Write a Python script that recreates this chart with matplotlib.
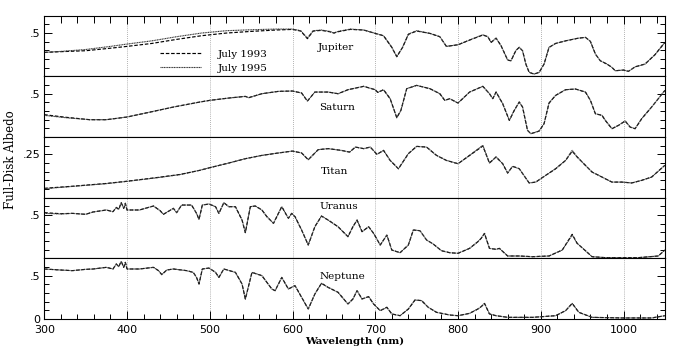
import matplotlib
matplotlib.use("Agg")
import matplotlib.pyplot as plt
from matplotlib.ticker import MultipleLocator, FixedLocator, FixedFormatter

# ---------------- data ----------------
wl_jup = [300, 320, 350, 380, 400, 430, 460, 490, 520, 550, 580, 600, 610, 618, 625, 635, 645, 650, 655,
          670, 686, 700, 710, 720, 726, 733, 740, 750, 766, 778, 786, 792, 800, 814, 830, 836, 840, 846,
          852, 860, 864, 870, 874, 878, 882, 886, 892, 898, 904, 910, 918, 930, 945, 954, 960, 966, 972,
          980, 986, 990, 1000, 1006, 1014, 1026, 1038, 1050]
jup_1995 = [0.277, 0.288, 0.31, 0.346, 0.373, 0.41, 0.458, 0.50, 0.527, 0.538, 0.546, 0.546, 0.527, 0.442,
            0.527, 0.535, 0.519, 0.50, 0.519, 0.546, 0.535, 0.496, 0.469, 0.335, 0.227, 0.335, 0.488, 0.527,
            0.496, 0.458, 0.346, 0.354, 0.365, 0.419, 0.481, 0.458, 0.392, 0.442, 0.354, 0.188, 0.18, 0.30,
            0.335, 0.296, 0.142, 0.046, 0.027, 0.046, 0.142, 0.335, 0.38, 0.41, 0.44, 0.45, 0.404, 0.258,
            0.18, 0.142, 0.104, 0.065, 0.073, 0.058, 0.11, 0.142, 0.25, 0.392]
jup_1993 = [0.277, 0.285, 0.296, 0.325, 0.346, 0.38, 0.427, 0.469, 0.50, 0.519, 0.535, 0.542, 0.523, 0.435,
            0.523, 0.531, 0.515, 0.50, 0.515, 0.542, 0.535, 0.496, 0.469, 0.335, 0.227, 0.335, 0.485, 0.523,
            0.496, 0.458, 0.346, 0.354, 0.365, 0.419, 0.477, 0.458, 0.392, 0.442, 0.354, 0.188, 0.18, 0.30,
            0.335, 0.296, 0.142, 0.046, 0.027, 0.046, 0.142, 0.335, 0.38, 0.41, 0.44, 0.45, 0.404, 0.258,
            0.18, 0.142, 0.104, 0.065, 0.073, 0.058, 0.11, 0.142, 0.25, 0.392]

wl_sat = [300, 326, 355, 375, 400, 428, 456, 488, 500, 523, 543, 547, 563, 583, 600, 611, 618, 627, 643,
          655, 667, 686, 700, 703, 710, 718, 726, 731, 738, 750, 766, 778, 784, 790, 800, 814, 830, 838,
          842, 846, 854, 862, 868, 874, 878, 884, 888, 898, 904, 910, 918, 930, 942, 954, 960, 966, 974,
          978, 986, 994, 1002, 1008, 1014, 1022, 1034, 1050]
sat_1995 = [0.25, 0.223, 0.20, 0.20, 0.231, 0.288, 0.346, 0.404, 0.423, 0.45, 0.469, 0.454, 0.50, 0.527,
            0.531, 0.508, 0.415, 0.519, 0.519, 0.50, 0.546, 0.585, 0.546, 0.515, 0.546, 0.442, 0.223, 0.308,
            0.558, 0.596, 0.558, 0.50, 0.423, 0.442, 0.392, 0.519, 0.585, 0.50, 0.442, 0.519, 0.385, 0.192,
            0.308, 0.404, 0.346, 0.077, 0.038, 0.069, 0.154, 0.392, 0.481, 0.546, 0.554, 0.519, 0.423,
            0.269, 0.25, 0.192, 0.096, 0.135, 0.185, 0.115, 0.096, 0.212, 0.346, 0.538]
sat_1993 = [0.258, 0.228, 0.20, 0.20, 0.231, 0.288, 0.346, 0.404, 0.423, 0.45, 0.469, 0.454, 0.50, 0.527,
            0.531, 0.508, 0.415, 0.519, 0.519, 0.50, 0.546, 0.585, 0.546, 0.515, 0.546, 0.442, 0.223, 0.308,
            0.558, 0.596, 0.558, 0.50, 0.423, 0.442, 0.392, 0.519, 0.585, 0.50, 0.442, 0.519, 0.385, 0.192,
            0.308, 0.404, 0.346, 0.077, 0.038, 0.069, 0.154, 0.392, 0.481, 0.546, 0.554, 0.519, 0.423,
            0.269, 0.25, 0.192, 0.096, 0.135, 0.185, 0.115, 0.096, 0.212, 0.346, 0.538]

wl_tit = [300, 334, 375, 400, 436, 464, 488, 500, 523, 543, 563, 583, 600, 611, 619, 631, 643, 659, 669,
          676, 686, 694, 702, 710, 718, 728, 740, 750, 762, 774, 786, 800, 814, 830, 838, 846, 854, 860,
          866, 874, 886, 894, 906, 918, 930, 938, 944, 952, 962, 974, 986, 998, 1010, 1022, 1034, 1050]
tit_1995 = [0.052, 0.065, 0.081, 0.094, 0.115, 0.133, 0.158, 0.173, 0.20, 0.225, 0.244, 0.258, 0.269,
            0.258, 0.219, 0.277, 0.283, 0.273, 0.263, 0.292, 0.283, 0.292, 0.25, 0.273, 0.215, 0.167,
            0.254, 0.296, 0.292, 0.244, 0.215, 0.196, 0.244, 0.302, 0.20, 0.235, 0.196, 0.142, 0.181,
            0.167, 0.085, 0.09, 0.129, 0.167, 0.215, 0.273, 0.235, 0.196, 0.148, 0.119, 0.09, 0.09,
            0.085, 0.10, 0.119, 0.187]
tit_1993 = [0.054, 0.066, 0.082, 0.095, 0.116, 0.134, 0.158, 0.173, 0.20, 0.225, 0.244, 0.258, 0.269,
            0.258, 0.219, 0.277, 0.283, 0.273, 0.263, 0.292, 0.283, 0.292, 0.25, 0.273, 0.215, 0.167,
            0.254, 0.296, 0.292, 0.244, 0.215, 0.196, 0.244, 0.298, 0.20, 0.235, 0.196, 0.142, 0.181,
            0.167, 0.085, 0.09, 0.129, 0.167, 0.215, 0.268, 0.235, 0.196, 0.148, 0.119, 0.09, 0.09,
            0.085, 0.10, 0.119, 0.187]

wl_ura = [300, 320, 334, 350, 359, 375, 383, 387, 390, 393, 396, 398, 400, 415, 432, 440, 444, 456, 460,
          466, 478, 484, 487, 491, 499, 507, 511, 517, 523, 531, 539, 543, 549, 555, 563, 569, 577, 587,
          595, 599, 603, 611, 619, 627, 635, 643, 655, 667, 673, 678, 684, 692, 698, 706, 714, 720, 730,
          740, 746, 754, 762, 770, 780, 790, 800, 814, 824, 828, 832, 838, 846, 850, 860, 874, 890, 910,
          926, 938, 944, 954, 962, 978, 1018, 1042, 1050]
ura_1995 = [0.519, 0.512, 0.519, 0.508, 0.535, 0.558, 0.538, 0.588, 0.565, 0.642, 0.577, 0.635, 0.558,
            0.558, 0.604, 0.55, 0.508, 0.577, 0.527, 0.615, 0.615, 0.519, 0.45, 0.615, 0.627, 0.596, 0.519,
            0.642, 0.596, 0.596, 0.442, 0.296, 0.596, 0.604, 0.558, 0.481, 0.404, 0.596, 0.462, 0.519,
            0.481, 0.327, 0.154, 0.365, 0.488, 0.442, 0.365, 0.25, 0.365, 0.442, 0.308, 0.365, 0.288,
            0.154, 0.269, 0.096, 0.065, 0.154, 0.327, 0.319, 0.212, 0.165, 0.088, 0.065, 0.058, 0.115,
            0.192, 0.231, 0.288, 0.115, 0.104, 0.115, 0.027, 0.027, 0.019, 0.027, 0.096, 0.269, 0.173,
            0.088, 0.019, 0.008, 0.008, 0.027, 0.096]
ura_1993 = [0.527, 0.515, 0.519, 0.508, 0.535, 0.558, 0.538, 0.588, 0.565, 0.642, 0.577, 0.635, 0.558,
            0.558, 0.604, 0.55, 0.508, 0.577, 0.527, 0.615, 0.615, 0.519, 0.45, 0.615, 0.627, 0.596, 0.519,
            0.642, 0.596, 0.596, 0.442, 0.296, 0.596, 0.604, 0.558, 0.481, 0.404, 0.596, 0.462, 0.519,
            0.481, 0.327, 0.154, 0.365, 0.488, 0.442, 0.365, 0.25, 0.365, 0.442, 0.308, 0.365, 0.288,
            0.154, 0.269, 0.096, 0.065, 0.154, 0.327, 0.319, 0.212, 0.165, 0.088, 0.065, 0.058, 0.115,
            0.192, 0.231, 0.288, 0.115, 0.104, 0.115, 0.027, 0.027, 0.019, 0.027, 0.096, 0.277, 0.173,
            0.088, 0.019, 0.008, 0.008, 0.027, 0.096]

wl_nep = [300, 320, 334, 350, 359, 375, 383, 387, 390, 393, 396, 398, 400, 415, 432, 438, 442, 448, 456,
          472, 480, 484, 487, 491, 499, 507, 511, 517, 531, 539, 543, 551, 563, 575, 579, 587, 595, 603,
          611, 619, 627, 635, 643, 655, 667, 673, 678, 684, 692, 698, 706, 714, 720, 730, 740, 748, 756,
          764, 774, 790, 800, 814, 824, 828, 832, 838, 846, 860, 890, 918, 930, 938, 946, 962, 998, 1034,
          1050]
nep_1995 = [0.577, 0.565, 0.558, 0.573, 0.577, 0.596, 0.577, 0.635, 0.604, 0.665, 0.596, 0.654, 0.577,
            0.577, 0.596, 0.558, 0.512, 0.565, 0.577, 0.558, 0.538, 0.48, 0.404, 0.577, 0.588, 0.538, 0.48,
            0.577, 0.538, 0.404, 0.231, 0.538, 0.50, 0.346, 0.327, 0.48, 0.346, 0.385, 0.25, 0.115, 0.288,
            0.412, 0.365, 0.308, 0.173, 0.231, 0.327, 0.231, 0.258, 0.173, 0.096, 0.135, 0.058, 0.038,
            0.115, 0.219, 0.212, 0.135, 0.077, 0.046, 0.038, 0.065, 0.115, 0.142, 0.18, 0.058, 0.038,
            0.019, 0.019, 0.038, 0.096, 0.18, 0.077, 0.019, 0.012, 0.012, 0.038]
nep_1993 = [0.577, 0.565, 0.558, 0.573, 0.577, 0.596, 0.577, 0.635, 0.604, 0.665, 0.596, 0.654, 0.577,
            0.577, 0.596, 0.558, 0.512, 0.565, 0.577, 0.558, 0.538, 0.48, 0.404, 0.577, 0.588, 0.538, 0.48,
            0.577, 0.538, 0.404, 0.231, 0.538, 0.50, 0.346, 0.327, 0.48, 0.346, 0.385, 0.25, 0.115, 0.288,
            0.412, 0.365, 0.308, 0.173, 0.231, 0.327, 0.231, 0.258, 0.173, 0.096, 0.135, 0.058, 0.038,
            0.115, 0.219, 0.212, 0.135, 0.077, 0.046, 0.038, 0.065, 0.115, 0.142, 0.18, 0.058, 0.038,
            0.019, 0.019, 0.038, 0.096, 0.18, 0.077, 0.019, 0.012, 0.012, 0.038]

planets = ["Jupiter", "Saturn", "Titan", "Uranus", "Neptune"]
wavelengths = [wl_jup, wl_sat, wl_tit, wl_ura, wl_nep]
series_1993 = [jup_1993, sat_1993, tit_1993, ura_1993, nep_1993]
series_1995 = [jup_1995, sat_1995, tit_1995, ura_1995, nep_1995]
y_max = [0.7, 0.7, 0.35, 0.7, 0.7]
y_minor_step = [0.1, 0.1, 0.05, 0.1, 0.1]
y_major_ticks = [[0.5], [0.5], [0.25], [0.5], [0, 0.5]]
y_major_labels = [[".5"], [".5"], [".25"], [".5"], ["0", ".5"]]
x_tick_values = [300, 400, 500, 600, 700, 800, 900, 1000]
legend_labels = ["July 1993", "July 1995"]

# label placement (axes fraction)
name_pos = [(0.44, 0.48), (0.443, 0.49), (0.446, 0.43), (0.443, 0.85), (0.443, 0.70)]

# ---------------- figure ----------------
SERIF = "DejaVu Serif"
plt.rcParams["font.family"] = ["DejaVu Sans"]
fig, axes = plt.subplots(5, 1, figsize=(6.75, 3.54), dpi=100, sharex=True)
fig.subplots_adjust(left=0.0656, right=0.985, top=0.9556, bottom=0.0989, hspace=0)

for i, ax in enumerate(axes):
    l93, = ax.plot(wavelengths[i], series_1993[i], color="black", lw=0.85,
                   linestyle=(0, (3, 1.5)), label=legend_labels[0])
    l95, = ax.plot(wavelengths[i], series_1995[i], color="0.2", lw=0.8,
                   linestyle=(0, (1, 0.5)), label=legend_labels[1])
    ax.set_xlim(300, 1050)
    ax.set_ylim(0, y_max[i])
    ax.yaxis.set_major_locator(FixedLocator(y_major_ticks[i]))
    ax.yaxis.set_major_formatter(FixedFormatter(y_major_labels[i]))
    ax.yaxis.set_minor_locator(MultipleLocator(y_minor_step[i]))
    ax.xaxis.set_major_locator(FixedLocator(x_tick_values))
    ax.xaxis.set_minor_locator(MultipleLocator(20))
    ax.tick_params(axis="y", which="both", direction="in", left=True, right=True, labelsize=8,
                   width=0.7, pad=3)
    ax.tick_params(axis="y", which="major", length=6)
    ax.tick_params(axis="y", which="minor", length=3.5)
    ax.tick_params(axis="x", which="both", direction="in", top=(i == 0), bottom=(i == 4),
                   labelbottom=(i == 4), labelsize=8, width=0.7, pad=4)
    ax.tick_params(axis="x", which="major", length=6)
    ax.tick_params(axis="x", which="minor", length=3.5 if i == 4 else 5)
    ax.xaxis.grid(True, which="major", linestyle=(0, (1, 1.5)), color="0.6", lw=0.6)
    for s in ax.spines.values():
        s.set_linewidth(0.8)
    ax.text(name_pos[i][0], name_pos[i][1], planets[i], transform=ax.transAxes,
            fontsize=7.5, family=SERIF, ha="left", va="center")
    if i == 0:
        ax.legend(handles=[l93, l95], loc="upper left", bbox_to_anchor=(0.186, 0.44),
                  frameon=False, prop={"family": SERIF, "size": 7.5},
                  handlelength=4.0, handletextpad=1.6, labelspacing=0.45,
                  borderpad=0, borderaxespad=0)

axes[-1].set_xlabel("Wavelength (nm)", family=SERIF, fontsize=7.5, fontweight="bold", labelpad=2)
fig.text(0.016, 0.548, "Full-Disk Albedo", rotation=90, family=SERIF, fontsize=8.5,
         ha="center", va="center")

fig.savefig("out.png", dpi=100)
